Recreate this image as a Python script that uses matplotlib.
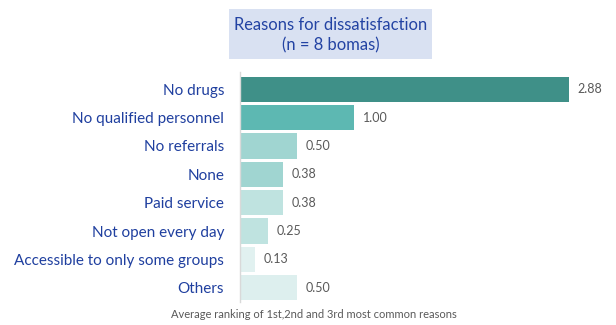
import matplotlib
matplotlib.use("Agg")
import matplotlib.pyplot as plt
from matplotlib.patches import Rectangle

categories = ["No drugs", "No qualified personnel", "No referrals", "None",
              "Paid service", "Not open every day",
              "Accessible to only some groups", "Others"]
values = [2.88, 1.00, 0.50, 0.38, 0.38, 0.25, 0.13, 0.50]
value_labels = ["2.88", "1.00", "0.50", "0.38", "0.38", "0.25", "0.13", "0.50"]
bar_colors = ["#3F9088", "#5DB8B2", "#A0D5D1", "#A0D5D1",
              "#BFE3E0", "#BFE3E0", "#E1F1F0", "#DDEFEE"]

title = "Reasons for dissatisfaction\n(n = 8 bomas)"
footer = "Average ranking of 1st,2nd and 3rd most common reasons"

W, H = 616, 325
fig = plt.figure(figsize=(W / 100, H / 100), dpi=100)
plt.rcParams["font.family"] = ["Lato", "DejaVu Sans"]

ax_left, ax_right, ax_top, ax_bot = 239.7, 600, 72, 302
ax = fig.add_axes([ax_left / W, (H - ax_bot) / H,
                   (ax_right - ax_left) / W, (ax_bot - ax_top) / H])

ypos = list(range(len(categories)))
ax.barh(ypos, values, height=0.89, color=bar_colors)
ax.set_xlim(0, (ax_right - ax_left) / 114.3)
ax.set_ylim(7.505, -0.61)

for y, v, lab in zip(ypos, values, value_labels):
    ax.text(v + 0.075, y, lab, va="center", ha="left",
            fontsize=9, color="#595959")

ax.set_yticks(ypos)
ax.set_yticklabels(categories, fontsize=11.0, color="#1F3F9F")
ax.tick_params(axis="y", length=0, pad=11.3)
ax.set_xticks([])
for s in ["top", "right", "bottom"]:
    ax.spines[s].set_visible(False)
ax.spines["left"].set_color("#D9D9D9")
ax.spines["left"].set_linewidth(1.0)

# title box
fig.patches.append(Rectangle((229 / W, (H - 59) / H), (432 - 229) / W, 50 / H,
                             transform=fig.transFigure, facecolor="#D9E1F2",
                             edgecolor="none", zorder=0))
fig.text(330.5 / W, (H - 35.5) / H, title, ha="center", va="center",
         fontsize=11.9, color="#2343A3", linespacing=1.3)

fig.text(313.5 / W, (H - 315) / H, footer, ha="center", va="center",
         fontsize=8.0, color="#595959")

fig.savefig("out.png", dpi=100)
